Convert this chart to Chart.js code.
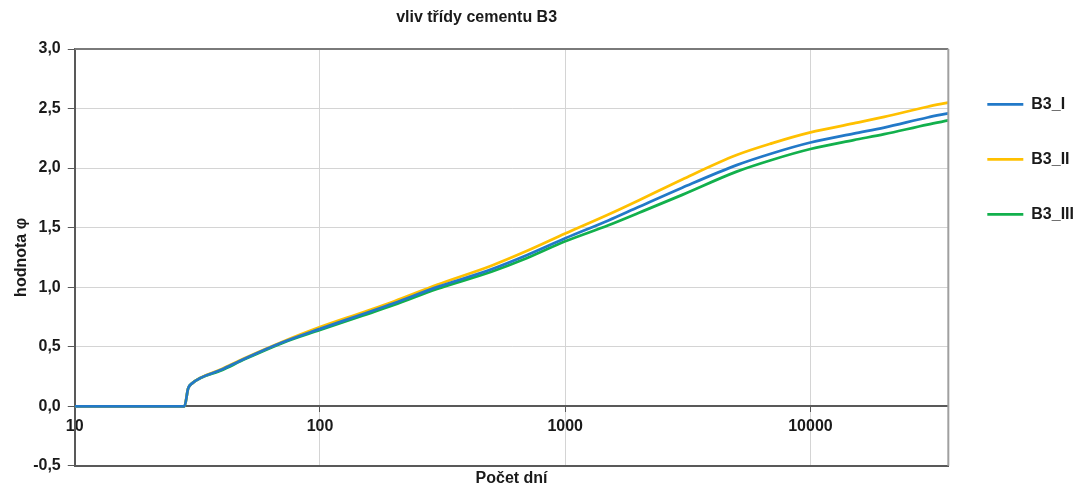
<!DOCTYPE html>
<html>
<head>
<meta charset="utf-8">
<script src="https://cdn.jsdelivr.net/npm/chart.js@4/dist/chart.umd.min.js"></script>
<style>
  html, body { margin: 0; padding: 0; background: #fff; }
  #wrap { width: 1076px; height: 489px; }
</style>
</head>
<body>
<div id="wrap"><canvas id="chart"></canvas></div>
<script>
// stáří betonu ve dnech
const days = [10, 28, 29, 30, 40, 50, 70, 100, 150, 200, 300, 500, 700, 1000, 1500, 2000, 3000, 5000, 7000, 10000, 15000, 20000, 30000, 36500]

const b3_I   = [0, 0, 0.15, 0.19, 0.31, 0.405, 0.535, 0.65, 0.775, 0.865, 1.0, 1.15, 1.27, 1.41, 1.56, 1.675, 1.835, 2.025, 2.125, 2.215, 2.29, 2.34, 2.425, 2.46]
const b3_II  = [0, 0, 0.15, 0.19, 0.315, 0.41, 0.54, 0.665, 0.79, 0.88, 1.02, 1.18, 1.305, 1.45, 1.61, 1.73, 1.905, 2.11, 2.21, 2.30, 2.375, 2.43, 2.515, 2.55]
const b3_III = [0, 0, 0.15, 0.19, 0.305, 0.40, 0.53, 0.64, 0.762, 0.85, 0.985, 1.13, 1.245, 1.385, 1.52, 1.625, 1.775, 1.97, 2.07, 2.16, 2.235, 2.285, 2.365, 2.40]

const seriesNames = ["B3_I", "B3_II", "B3_III"]
const seriesColors = ["#2279c8", "#ffc000", "#12b04c"]
const xTicks = [10, 100, 1000, 10000]

const font = { family: "'Liberation Sans', Arial, sans-serif", size: 16, weight: "bold" }
const axisDark = "#595959"

function toPoints(vals) {
  return vals.map((v, i) => ({ x: days[i], y: v }))
}

// titulek a rámeček kolem plochy grafu
const decor = {
  id: "decor",
  afterDraw(chart) {
    const { ctx, chartArea: a } = chart
    ctx.save()
    ctx.lineWidth = 2
    ctx.strokeStyle = "#7a7a7a"
    ctx.beginPath()
    ctx.moveTo(a.left, a.top)
    ctx.lineTo(a.right, a.top)
    ctx.stroke()
    ctx.strokeStyle = "#a0a0a0"
    ctx.beginPath()
    ctx.moveTo(a.right, a.top)
    ctx.lineTo(a.right, a.bottom)
    ctx.stroke()
    ctx.fillStyle = "#1a1a1a"
    ctx.font = "bold 16px 'Liberation Sans', Arial, sans-serif"
    ctx.textAlign = "center"
    ctx.textBaseline = "middle"
    ctx.fillText("vliv třídy cementu B3", a.left + a.width * 0.46, 18)
    ctx.restore()
  }
}

const allSeries = [b3_I, b3_II, b3_III]

new Chart(document.getElementById("chart"), {
  type: "line",
  data: {
    datasets: allSeries.map((vals, k) => ({
      label: seriesNames[k],
      data: toPoints(vals),
      borderColor: seriesColors[k],
      backgroundColor: seriesColors[k],
      borderWidth: 2.75,
      pointRadius: 0,
      cubicInterpolationMode: "monotone",
      xAxisID: "x",
      yAxisID: "y"
    }))
  },
  plugins: [decor],
  options: {
    responsive: true,
    maintainAspectRatio: false,
    animation: false,
    layout: { padding: { top: 49, left: 5, right: -8, bottom: 1 } },
    plugins: {
      title: { display: false },
      tooltip: { enabled: false },
      legend: {
        position: "right",
        align: "start",
        title: { display: true, text: " ", font: { size: 7 }, padding: 0 },
        labels: {
          usePointStyle: true,
          pointStyle: "line",
          pointStyleWidth: 36,
          padding: 39,
          color: "#1a1a1a",
          font: font
        }
      }
    },
    scales: {
      x: {
        type: "logarithmic",
        position: { y: 0 },
        min: 10,
        max: 36500,
        afterBuildTicks: s => { s.ticks = xTicks.map(v => ({ value: v })) },
        ticks: {
          color: "#1a1a1a",
          font: font,
          maxRotation: 0,
          autoSkip: false,
          padding: 6,
          callback: v => String(v)
        },
        grid: { color: "#d4d4d4", lineWidth: 1, tickLength: 5, tickColor: axisDark },
        border: { color: axisDark, width: 2 }
      },
      x2: {
        type: "logarithmic",
        position: "bottom",
        min: 10,
        max: 36500,
        ticks: { display: false },
        grid: { display: false, drawTicks: false },
        border: { color: axisDark, width: 2 },
        title: { display: true, text: "Počet dní", color: "#1a1a1a", font: font, padding: { top: 3, bottom: 0 } }
      },
      y: {
        min: -0.5,
        max: 3,
        ticks: {
          stepSize: 0.5,
          color: "#1a1a1a",
          font: font,
          padding: 7,
          callback: v => v.toFixed(1).replace(".", ",")
        },
        grid: { color: "#d4d4d4", lineWidth: 1, tickLength: 7, tickColor: axisDark },
        border: { color: axisDark, width: 2 },
        title: { display: true, text: "hodnota φ", color: "#1a1a1a", font: font, padding: { top: 7, bottom: -5 } }
      }
    }
  }
})
</script>
</body>
</html>
